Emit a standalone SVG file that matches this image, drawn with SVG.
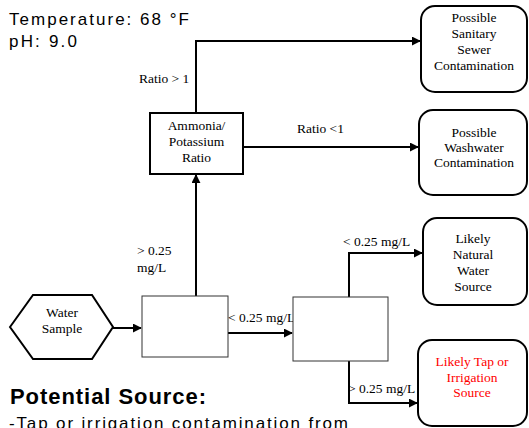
<svg xmlns="http://www.w3.org/2000/svg" width="529" height="428" viewBox="0 0 529 428">
<defs>
<marker id="ah" viewBox="0 0 10 10" refX="9" refY="5" markerWidth="4.5" markerHeight="4.5" orient="auto" markerUnits="strokeWidth">
<path d="M0,0 L10,5 L0,10 z" fill="#000"/>
</marker>
<style>
.t{font-family:"Liberation Serif","Times New Roman",serif;font-size:13.5px;fill:#000}
.c{text-anchor:middle}
.red{fill:#FF0000}
.s{font-family:"Liberation Sans",Arial,sans-serif;font-size:17px;fill:#000}
.b{font-family:"Liberation Sans",Arial,sans-serif;font-size:22px;font-weight:bold;fill:#000}
.ln{fill:none;stroke:#000;stroke-width:2}
.rb{fill:#fff;stroke:#000;stroke-width:2}
.tb{fill:#fff;stroke:#333;stroke-width:1}
</style>
</defs>
<rect width="529" height="428" fill="#fff"/>
<g id="info">
<text class="s" x="9" y="25" textLength="180" lengthAdjust="spacing">Temperature: 68 °F</text>
<text class="s" x="9" y="47" textLength="68" lengthAdjust="spacing">pH: 9.0</text>
<text class="b" x="10" y="404" textLength="196" lengthAdjust="spacing">Potential Source:</text>
<text class="s" x="9" y="429" textLength="339" lengthAdjust="spacing">-Tap or irrigation contamination from</text>
</g>
<g id="connectors">
<path class="ln" d="M113,328 H141" marker-end="url(#ah)"/>
<path class="ln" d="M228,333 H292" marker-end="url(#ah)"/>
<path class="ln" d="M196,296 V175" marker-end="url(#ah)"/>
<path class="ln" d="M196,113 V41 H420" marker-end="url(#ah)"/>
<path class="ln" d="M243,147 H418" marker-end="url(#ah)"/>
<path class="ln" d="M349,297 V253 H422" marker-end="url(#ah)"/>
<path class="ln" d="M349,361 V403 H417" marker-end="url(#ah)"/>
<text class="t" x="139" y="83">Ratio &gt; 1</text>
<text class="t" x="297" y="133">Ratio &lt;1</text>
<text class="t" x="137" y="255">&gt; 0.25</text>
<text class="t" x="137" y="272">mg/L</text>
<text class="t" x="228" y="322">&lt; 0.25 mg/L</text>
<text class="t" x="343" y="246">&lt; 0.25 mg/L</text>
<text class="t" x="348" y="393">&gt; 0.25 mg/L</text>
</g>
<g id="water-sample">
<polygon class="rb" points="10,327 33,295 92,295 113,327 92,359 33,359"/>
<text class="t c" x="62" y="317">Water</text>
<text class="t c" x="62" y="333">Sample</text>
</g>
<g id="test1">
<rect class="tb" x="142" y="296" width="86" height="61"/>
</g>
<g id="test2">
<rect class="tb" x="293" y="297" width="95" height="64"/>
</g>
<g id="ratio">
<rect class="rb" x="150" y="113" width="93" height="61"/>
<text class="t c" x="196.5" y="130">Ammonia/</text>
<text class="t c" x="196.5" y="146">Potassium</text>
<text class="t c" x="196.5" y="162">Ratio</text>
</g>
<g id="sewer">
<rect class="rb" x="421" y="6" width="106" height="86" rx="14"/>
<text class="t c" x="474" y="22">Possible</text>
<text class="t c" x="474" y="38">Sanitary</text>
<text class="t c" x="474" y="54">Sewer</text>
<text class="t c" x="474" y="70">Contamination</text>
</g>
<g id="washwater">
<rect class="rb" x="419" y="110" width="108" height="85" rx="14"/>
<text class="t c" x="474" y="137">Possible</text>
<text class="t c" x="474" y="152">Washwater</text>
<text class="t c" x="474" y="167">Contamination</text>
</g>
<g id="natural">
<rect class="rb" x="423" y="218" width="104" height="87" rx="14"/>
<text class="t c" x="473" y="243">Likely</text>
<text class="t c" x="473" y="259">Natural</text>
<text class="t c" x="473" y="275">Water</text>
<text class="t c" x="473" y="291">Source</text>
</g>
<g id="tap">
<rect class="rb" x="418" y="340" width="109" height="86" rx="14"/>
<text class="t c red" x="472" y="366">Likely Tap or</text>
<text class="t c red" x="472" y="382">Irrigation</text>
<text class="t c red" x="472" y="397">Source</text>
</g>
</svg>
